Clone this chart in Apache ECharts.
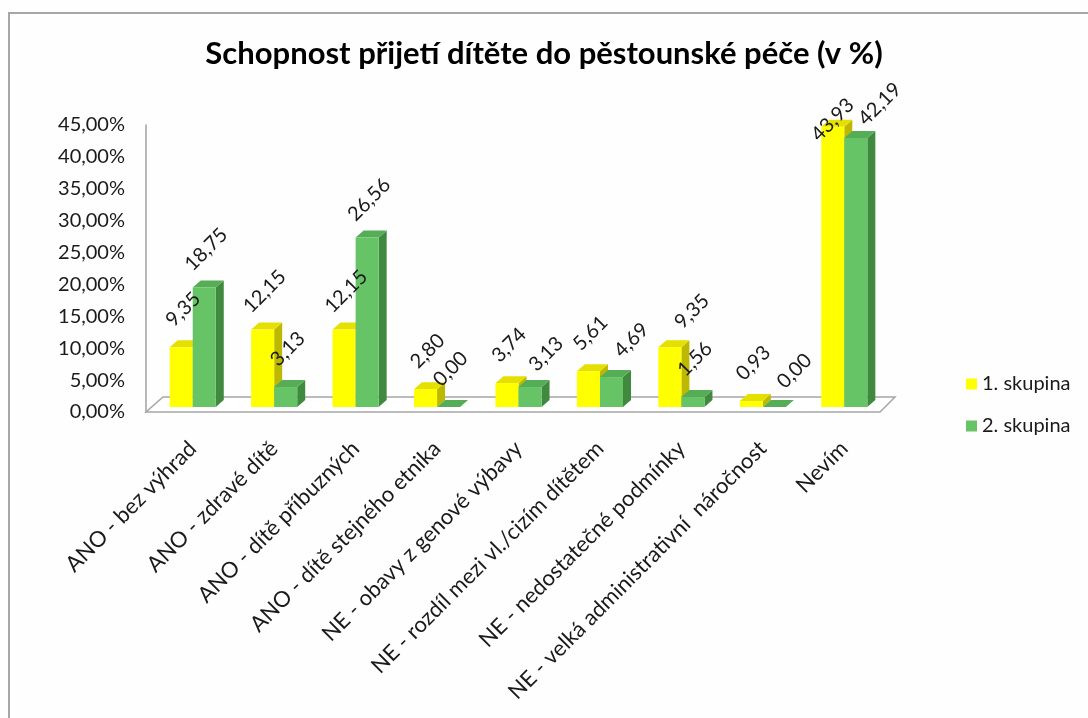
<!DOCTYPE html>
<html>
<head>
<meta charset="utf-8">
<script src="https://cdn.jsdelivr.net/npm/echarts@6/dist/echarts.min.js"></script>
<style>
  html, body { margin: 0; padding: 0; background: #fefefe; }
  #chart { width: 1088px; height: 718px; }
</style>
</head>
<body>
<div id="chart"></div>
<script>
const categories = [
  'ANO - bez výhrad',
  'ANO - zdravé dítě',
  'ANO - dítě příbuzných',
  'ANO - dítě stejného etnika',
  'NE - obavy z genové výbavy',
  'NE - rozdíl mezi vl./cizím dítětem',
  'NE - nedostatečné podmínky',
  'NE - velká administrativní  náročnost',
  'Nevím'
];
const group1 = [9.35, 12.15, 12.15, 2.80, 3.74, 5.61, 9.35, 0.93, 43.93];
const group2 = [18.75, 3.13, 26.56, 0.00, 3.13, 4.69, 1.56, 0.00, 42.19];
const seriesNames = ['1. skupina', '2. skupina'];

const yellow = { front: '#ffff00', top: '#e6e000', side: '#bdb800' };
const green = { front: '#66c466', top: '#55ad55', side: '#3f8a3f' };

const DEPTH_X = 8;
const DEPTH_Y = -7;
const SHIFT = 5; // front faces sit a bit behind the front edge of the floor

// Excel pushed a few labels sideways to avoid collisions
const labelNudge = {
  '0-6': [20, 2],
  '0-8': [-2, 31],
  '1-4': [14, 5],
  '1-5': [18, 1],
  '1-7': [18, 2],
  '1-8': [22, 4]
};

const fmt = v => v.toFixed(2).replace('.', ',');

// geometry of one bar (front face) from the axis scales
function barBox(api, offset) {
  const idx = api.value(0);
  const val = api.value(1);
  const band = api.size([1, 0])[0];
  const w = band * 0.283;
  const c = api.coord([idx, val]);
  const base = api.coord([idx, 0]);
  return { idx: idx, x0: c[0] + offset * w, w: w, top: c[1] - SHIFT, bottom: base[1] - SHIFT, val: val };
}

function barRenderer(offset, col) {
  return function (params, api) {
    const b = barBox(api, offset);
    const x1 = b.x0 + b.w;
    return {
      type: 'group',
      children: [
        {
          type: 'polygon',
          shape: { points: [[x1, b.bottom], [x1 + DEPTH_X, b.bottom + DEPTH_Y], [x1 + DEPTH_X, b.top + DEPTH_Y], [x1, b.top]] },
          style: { fill: col.side }
        },
        {
          type: 'polygon',
          shape: { points: [[b.x0, b.top], [b.x0 + DEPTH_X, b.top + DEPTH_Y], [x1 + DEPTH_X, b.top + DEPTH_Y], [x1, b.top]] },
          style: { fill: col.top }
        },
        {
          type: 'rect',
          shape: { x: b.x0, y: b.top, width: b.w, height: b.bottom - b.top },
          style: { fill: col.front }
        }
      ]
    };
  };
}

function labelRenderer(offset, seriesKey) {
  return function (params, api) {
    const b = barBox(api, offset);
    const nudge = labelNudge[seriesKey + '-' + b.idx] || [0, 0];
    return {
      type: 'text',
      x: b.x0 + b.w / 2 + 2 + nudge[0],
      y: b.top - 38 + nudge[1],
      rotation: Math.PI / 4,
      style: {
        text: fmt(b.val),
        fill: '#1a1a1a',
        font: '20px Lato',
        align: 'center',
        verticalAlign: 'middle'
      }
    };
  };
}

function floorRenderer(params, api) {
  const band = api.size([1, 0])[0];
  const l = api.coord([0, 0]);
  const r = api.coord([categories.length - 1, 0]);
  const fl = l[0] - band / 2 - 6;
  const fr = r[0] + band / 2 - 5;
  const fy = l[1];
  return {
    type: 'polygon',
    shape: { points: [[fl, fy], [fr, fy], [fr + 15, fy - 15], [fl + 17, fy - 15]] },
    style: { fill: '#ffffff', stroke: '#a6a6a6', lineWidth: 1.5 }
  };
}

const chart = echarts.init(document.getElementById('chart'));

chart.setOption({
  backgroundColor: '#fefefe',
  animation: false,
  title: {
    text: 'Schopnost přijetí dítěte do pěstounské péče (v %)',
    left: 'center',
    top: 33,
    textStyle: { fontFamily: 'Lato', fontWeight: 'bold', fontSize: 31, color: '#000' }
  },
  graphic: [
    {
      type: 'rect',
      shape: { x: 9, y: 13, width: 1200, height: 800 },
      style: { fill: 'none', stroke: '#a6a6a6', lineWidth: 2 },
      silent: true
    }
  ],
  legend: {
    data: seriesNames,
    orient: 'vertical',
    left: 961,
    top: 369,
    itemWidth: 11,
    itemHeight: 11,
    itemGap: 22,
    icon: 'rect',
    textStyle: { fontFamily: 'Lato', fontSize: 20, color: '#1a1a1a' }
  },
  grid: { left: 152, right: 203, top: 125, bottom: 306 },
  xAxis: {
    type: 'category',
    data: categories,
    axisLine: { show: false },
    axisTick: { show: false },
    axisLabel: {
      interval: 0,
      rotate: 45,
      margin: 33,
      fontFamily: 'Lato',
      fontSize: 22,
      color: '#1a1a1a'
    }
  },
  yAxis: {
    type: 'value',
    min: 0,
    max: 45,
    interval: 5,
    offset: 6,
    splitLine: { show: false },
    axisTick: { show: false },
    axisLine: { show: true, lineStyle: { color: '#a0a0a0', width: 1.5 } },
    axisLabel: {
      margin: 21,
      fontFamily: 'Lato',
      fontSize: 20,
      color: '#1a1a1a',
      formatter: v => fmt(v) + '%'
    }
  },
  series: [
    {
      type: 'custom',
      name: 'floor',
      z: 1,
      silent: true,
      renderItem: floorRenderer,
      data: [[0, 0]]
    },
    {
      type: 'custom',
      name: seriesNames[0],
      z: 2,
      itemStyle: { color: yellow.front },
      renderItem: barRenderer(-1, yellow),
      data: group1.map((v, i) => [i, v])
    },
    {
      type: 'custom',
      name: seriesNames[1],
      z: 2,
      itemStyle: { color: green.front },
      renderItem: barRenderer(0, green),
      data: group2.map((v, i) => [i, v])
    },
    {
      type: 'custom',
      name: seriesNames[0] + ' popisky',
      z: 5,
      silent: true,
      renderItem: labelRenderer(-1, 0),
      data: group1.map((v, i) => [i, v])
    },
    {
      type: 'custom',
      name: seriesNames[1] + ' popisky',
      z: 5,
      silent: true,
      renderItem: labelRenderer(0, 1),
      data: group2.map((v, i) => [i, v])
    }
  ]
});
</script>
</body>
</html>
